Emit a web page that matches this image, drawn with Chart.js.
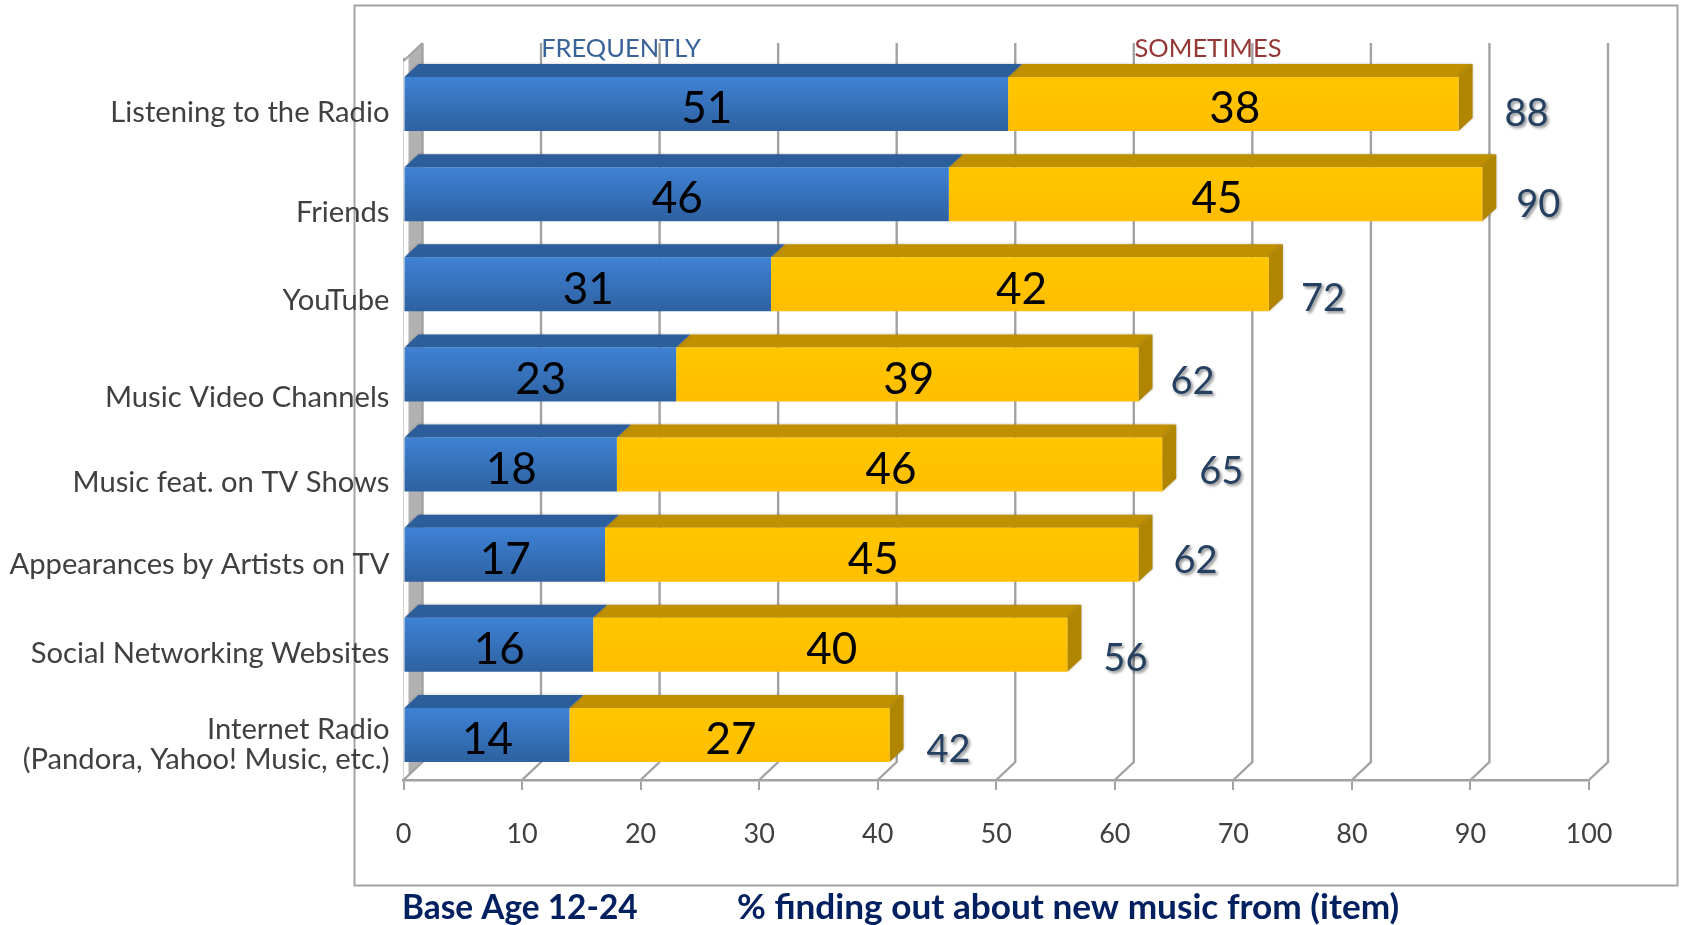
<!DOCTYPE html>
<html><head><meta charset="utf-8">
<style>html,body{margin:0;padding:0;background:#fff;overflow:hidden}canvas{display:block}</style>
<script src="https://cdn.jsdelivr.net/npm/chart.js@4"></script>
</head><body><canvas id="c" width="1682" height="925"></canvas>
<script>
const categories = ['Listening to the Radio','Friends','YouTube','Music Video Channels','Music feat. on TV Shows','Appearances by Artists on TV','Social Networking Websites',['Internet Radio','(Pandora, Yahoo! Music, etc.)']];
const frequently = [51,46,31,23,18,17,16,14];
const sometimes = [38,45,42,39,46,45,40,27];
const totals = [88,90,72,62,65,62,56,42];
const xTicks = [0,10,20,30,40,50,60,70,80,90,100];
const seriesNames = ['FREQUENTLY','SOMETIMES'];
const footLeft = 'Base Age 12-24';
const footRight = '% finding out about new music from (item)';

// hand-placed label nudges of the original slide (pixels)
const catNudge = [9,18,16,23,18,10,9,10];
const totalNudgeX = [68,56,54,54,59,57,58,59];
const totalNudgeY = [10,11,14,7,7,6,14,15];

const FONT = 'Lato, Carlito, sans-serif';
const DX = 14, DY = 13, WX = 19, WY = 18, GRID = '#A2A2A2';

function grad(c, a, b){
  const sc = c.chart.scales.y;
  if(!sc) return a;
  const yc = sc.getPixelForValue(c.dataIndex), h = sc.height/categories.length*0.3;
  if(!Number.isFinite(yc) || !Number.isFinite(h)) return a;
  const g = c.chart.ctx.createLinearGradient(0,yc-h,0,yc+h);
  g.addColorStop(0,a); g.addColorStop(0.06,a); g.addColorStop(0.97,b); g.addColorStop(1,b);
  return g;
}
function poly(ctx,pts,fill){
  ctx.beginPath(); pts.forEach((p,i)=>i?ctx.lineTo(p[0],p[1]):ctx.moveTo(p[0],p[1])); ctx.closePath();
  ctx.fillStyle=fill; ctx.fill();
}
const slide = {
  id:'slide',
  beforeDraw(chart){
    const c=chart.ctx; c.save(); c.strokeStyle='#A3A3A3'; c.lineWidth=2;
    c.strokeRect(354.5,5.5,1323,880); c.restore();
  },
  beforeDatasetsDraw(chart){
    const c=chart.ctx,x=chart.scales.x,a=chart.chartArea; c.save();
    const top=a.top+2, bot=a.bottom;
    const x0=x.getPixelForValue(0);
    poly(c,[[x0,top],[x0+WX,top-WY],[x0+WX,bot-WY],[x0,bot]],'#FFFFFF');
    poly(c,[[x0+5,top-4],[x0+WX,top-WY],[x0+WX,bot-WY],[x0+5,bot-4]],'#B2B2B2');
    c.strokeStyle=GRID; c.lineWidth=2;
    c.beginPath(); c.moveTo(x0,top); c.lineTo(x0+WX,top-WY); c.stroke();
    xTicks.forEach(v=>{
      const px=x.getPixelForValue(v);
      c.beginPath(); c.moveTo(px,bot); c.lineTo(px+WX,bot-WY); c.lineTo(px+WX,top-WY);
      c.lineWidth=2.4; c.strokeStyle=GRID; c.stroke();
    });
    // depth faces of the bars
    const m0=chart.getDatasetMeta(0).data, m1=chart.getDatasetMeta(1).data;
    categories.forEach((_,i)=>{
      const b=m0[i], y=m1[i], t=b.y-b.height/2, u=b.y+b.height/2;
      c.save(); c.shadowColor='rgba(0,0,0,0.25)'; c.shadowBlur=3;
      poly(c,[[y.base,t],[y.base+DX,t-DY],[y.x+DX,t-DY],[y.x,t]],'#BF9000');
      poly(c,[[y.x,t],[y.x+DX,t-DY],[y.x+DX,u-DY],[y.x,u]],'#B08500');
      poly(c,[[b.base,t],[b.base+DX,t-DY],[b.x+DX,t-DY],[b.x,t]],'#2C5E9C');
      c.restore();
    });
    c.restore();
  },
  afterDatasetsDraw(chart){
    const c=chart.ctx,x=chart.scales.x,y=chart.scales.y; c.save();
    c.textAlign='center'; c.textBaseline='middle';
    [0,1].forEach(d=>{
      const els=chart.getDatasetMeta(d).data, vals=chart.data.datasets[d].data;
      c.font='44px '+FONT; c.fillStyle='#000';
      els.forEach((e,i)=>c.fillText(String(vals[i]),(e.base+e.x)/2+(d?1.5:0.5),e.y+5));
    });
    c.save();
    c.shadowColor='rgba(0,0,0,0.45)'; c.shadowBlur=3; c.shadowOffsetX=2; c.shadowOffsetY=2;
    c.font='38px '+FONT; c.fillStyle='#254061';
    totals.forEach((t,i)=>{
      const end=x.getPixelForValue(frequently[i]+sometimes[i]);
      c.fillText(String(t),end+totalNudgeX[i],y.getPixelForValue(i)+totalNudgeY[i]);
    });
    c.restore();
    c.font='25.5px '+FONT;
    c.fillStyle='#3A6499'; c.fillText(seriesNames[0],621,49);
    c.fillStyle='#953735'; c.fillText(seriesNames[1],1208,49);
    c.textAlign='left'; c.fillStyle='#002060';
    c.font='bold 33.4px '+FONT; c.fillText(footLeft,402,908);
    c.font='bold 35.2px '+FONT; c.fillText(footRight,737,908);
    c.restore();
  }
};
new Chart(document.getElementById('c'),{
  type:'bar',
  plugins:[slide],
  data:{labels:categories,datasets:[
    {label:seriesNames[0],data:frequently,backgroundColor:c=>grad(c,'#3E80D2','#2E62A2')},
    {label:seriesNames[1],data:sometimes,backgroundColor:c=>grad(c,'#FFC600','#FFBE00')}
  ]},
  options:{
    indexAxis:'y',responsive:false,animation:false,devicePixelRatio:1,
    layout:{padding:{top:59,right:93,left:0,bottom:0}},
    datasets:{bar:{categoryPercentage:1,barPercentage:0.6,borderWidth:0}},
    plugins:{legend:{display:false},tooltip:{enabled:false},title:{display:false}},
    scales:{
      x:{type:'linear',stacked:true,min:0,max:100,
        afterFit:s=>{s.height=145},
        afterBuildTicks:s=>{s.ticks=xTicks.map(v=>({value:v}))},
        border:{display:true,color:GRID,width:2.5},
        grid:{drawOnChartArea:false,drawTicks:true,tickLength:10,color:GRID,lineWidth:2},
        ticks:{padding:28,maxRotation:0,autoSkip:false,color:'#404040',font:{family:FONT,size:27}}},
      y:{type:'category',stacked:true,
        afterFit:s=>{s.width=403.5},
        afterUpdate:s=>{
          const orig=s.getLabelItems;
          s.getLabelItems=function(a){
            const items=orig.call(this,a);
            if(!items._nudged){items.forEach((it,i)=>{it.options.translation[1]+=catNudge[i]});items._nudged=true;}
            return items;
          };
        },
        border:{display:true,color:GRID,width:2},
        grid:{display:true,drawOnChartArea:false,drawTicks:false,color:GRID},
        ticks:{padding:14,autoSkip:false,color:'#404040',font:{family:FONT,size:29.2,lineHeight:1.03}}}
    }
  }
});
</script></body></html>
